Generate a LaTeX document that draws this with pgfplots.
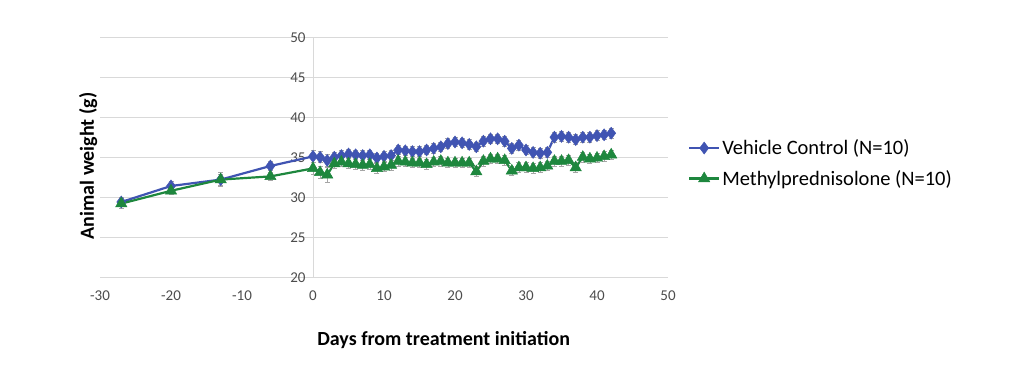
\documentclass[border=0pt]{standalone}
\usepackage{fontspec}
\setmainfont{Carlito}
\usepackage{pgfplots}
\usepackage{pgfplotstable}
\pgfplotsset{compat=1.18}
\definecolor{vblue}{RGB}{64,84,178}
\definecolor{mgreen}{RGB}{30,135,62}
\definecolor{gridgray}{RGB}{217,217,217}
\pgfplotstableread{
x y e
-27 29.5 0.6
-20 31.5 0.6
-13 32.3 0.7
-6 34.0 0.6
0 35.2 0.7
1 35.1 0.7
2 34.7 0.8
3 35.1 0.6
4 35.3 0.6
5 35.5 0.6
6 35.4 0.6
7 35.3 0.6
8 35.4 0.6
9 35.0 0.6
10 35.2 0.6
11 35.3 0.6
12 36.0 0.6
13 35.9 0.6
14 35.8 0.6
15 35.8 0.6
16 36.0 0.6
17 36.2 0.6
18 36.4 0.6
19 36.8 0.6
20 37.0 0.6
21 36.9 0.6
22 36.7 0.6
23 36.4 0.6
24 37.1 0.6
25 37.4 0.6
26 37.4 0.6
27 37.1 0.6
28 36.2 0.6
29 36.6 0.6
30 36.0 0.6
31 35.7 0.6
32 35.6 0.6
33 35.7 0.6
34 37.6 0.6
35 37.7 0.6
36 37.6 0.6
37 37.3 0.6
38 37.6 0.6
39 37.6 0.6
40 37.8 0.6
41 37.9 0.6
42 38.1 0.6
}\vehicle
\pgfplotstableread{
x y e
-27 29.3 0.6
-20 30.9 0.5
-13 32.3 0.9
-6 32.7 0.5
0 33.7 0.7
1 33.2 0.8
2 32.9 0.9
3 34.3 0.6
4 34.5 0.6
5 34.3 0.6
6 34.2 0.6
7 34.1 0.6
8 34.2 0.6
9 33.7 0.6
10 33.9 0.6
11 34.1 0.6
12 34.6 0.6
13 34.5 0.6
14 34.4 0.6
15 34.4 0.6
16 34.2 0.6
17 34.5 0.6
18 34.6 0.6
19 34.4 0.6
20 34.4 0.6
21 34.4 0.6
22 34.4 0.6
23 33.3 0.6
24 34.6 0.6
25 34.9 0.6
26 34.9 0.6
27 34.7 0.6
28 33.4 0.6
29 33.8 0.6
30 33.8 0.6
31 33.7 0.6
32 33.8 0.6
33 34.0 0.6
34 34.6 0.6
35 34.6 0.6
36 34.7 0.6
37 33.8 0.6
38 35.1 0.6
39 34.9 0.6
40 35.0 0.6
41 35.2 0.6
42 35.4 0.6
}\methyl
\begin{document}
\begin{tikzpicture}
\useasboundingbox (0pt,0pt) rectangle (1024pt,379pt);
\begin{axis}[
  at={(100pt,101pt)}, anchor=south west,
  scale only axis, width=568pt, height=240pt,
  xmin=-30, xmax=50, ymin=20, ymax=50,
  xtick={-30,-20,...,50}, ytick={20,25,...,50},
  axis x line=bottom, axis y line=middle,
  hide obscured x ticks=false, hide obscured y ticks=false,
  axis line style={draw=gridgray, line width=1pt, -},
  ymajorgrids, grid style={gridgray, line width=1pt},
  major tick length=0pt,
  /pgf/number format/assume math mode=true,
  ticklabel style={font=\fontsize{15}{17}\selectfont, text=black!70},
  xticklabel style={yshift=-9pt},
  yticklabel style={xshift=-4pt},
  xlabel={Days from treatment initiation},
  ylabel={Animal weight (g)},
  xlabel style={at={(axis description cs:0.605,-0.258)}, anchor=center, font=\fontsize{20}{24}\selectfont\bfseries},
  ylabel style={at={(axis description cs:-0.021,0.467)}, anchor=center, rotate=90, font=\fontsize{20}{24}\selectfont\bfseries},
  legend style={at={(axis description cs:1.035,0.585)}, anchor=north west, draw=none, fill=none,
    font=\fontsize{20.5}{23}\selectfont, row sep=10pt, inner sep=0pt},
  legend cell align=left,
  legend image code/.code={\draw[mark repeat=2,mark phase=2] plot coordinates {(0pt,0pt) (15pt,0pt) (30pt,0pt)};},
  clip=false,
]
\addplot[color=vblue, line width=2.2pt, mark=diamond*, mark size=6pt, mark options={fill=vblue, draw=vblue, line width=0.5pt},
  error bars/.cd, y dir=both, y explicit,
  error bar style={gray!70, line width=0.6pt},
  error mark options={rotate=90, mark size=2.5pt, gray!70, line width=0.6pt}]
  table[x=x, y=y, y error=e] {\vehicle};
\addlegendentry{Vehicle Control (N=10)}
\addplot[color=mgreen, line width=2.2pt, mark=triangle*, mark size=6.5pt, mark options={fill=mgreen, draw=mgreen, line width=0.5pt},
  error bars/.cd, y dir=both, y explicit,
  error bar style={gray!70, line width=0.6pt},
  error mark options={rotate=90, mark size=2.5pt, gray!70, line width=0.6pt}]
  table[x=x, y=y, y error=e] {\methyl};
\addlegendentry{Methylprednisolone (N=10)}
\end{axis}
\end{tikzpicture}
\end{document}
